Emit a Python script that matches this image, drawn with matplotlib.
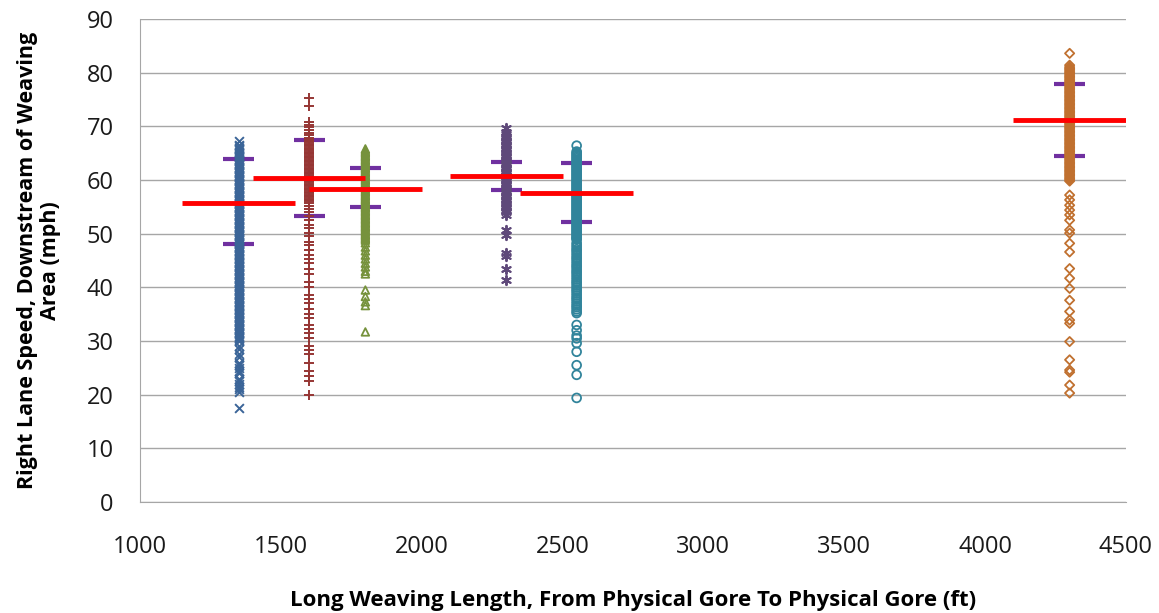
import numpy as np
import matplotlib.pyplot as plt

plt.rcParams['font.family'] = ['Open Sans', 'DejaVu Sans']

# weaving sites (ft) and spot speeds (mph)
lengths = [1350, 1600, 1800, 2300, 2550, 4300]

speed_1350 = [67.2, 66.5, 66.0, 65.5, 65.0, 64.5, 64.0, 63.5, 63.0, 62.5, 62.0, 61.5, 61.0,
              60.5, 60.0, 59.5, 59.0, 58.5, 58.0, 57.5, 57.0, 56.5, 56.0, 55.5, 55.0, 54.5,
              54.0, 53.5, 53.0, 52.5, 52.0, 51.5, 51.0, 50.5, 50.0, 49.5, 49.0, 48.5, 48.0,
              47.5, 47.0, 46.5, 46.0, 45.5, 45.0, 44.5, 44.0, 43.5, 43.0, 42.5, 42.0, 41.5,
              41.0, 40.5, 40.0, 39.5, 39.0, 38.5, 38.0, 37.5, 37.0, 36.5, 36.0, 35.5, 35.0,
              34.5, 34.0, 33.5, 33.0, 32.5, 32.0, 31.5, 31.0, 30.5, 30.0, 29.0, 28.5, 27.5,
              27.0, 26.0, 25.5, 25.0, 24.5, 24.0, 23.0, 22.5, 22.0, 21.5, 21.0, 20.5, 17.5,
              66.25, 65.75, 65.25, 64.75, 64.25, 63.75, 63.25, 62.75, 62.25, 61.75, 61.25,
              60.75, 60.25, 59.75, 59.25, 58.75, 58.25, 57.75, 57.25, 56.75, 56.25, 55.75,
              55.25, 54.75, 54.25, 53.75, 53.25, 52.75, 52.25, 51.75, 51.25, 50.75, 50.25,
              49.75, 49.25, 48.75, 48.25, 47.75, 47.25, 46.75, 46.25, 45.75, 45.25, 44.75,
              44.25, 43.75, 43.25, 42.75, 42.25, 41.75, 41.25, 40.75, 40.25, 39.75, 39.25,
              38.75, 38.25, 37.75, 37.25, 36.75, 36.25, 35.75, 35.25, 34.75, 34.25, 33.75,
              33.25, 32.75, 32.25, 31.75, 31.25, 30.75, 30.25]
speed_1600 = [75.2, 73.8, 70.9, 70.3, 69.8, 69.3, 68.8, 68.3, 67.8, 67.3, 66.8, 66.3, 65.8,
              65.3, 64.8, 64.3, 63.8, 63.3, 62.8, 62.3, 61.8, 61.3, 60.8, 60.3, 59.8, 59.3,
              58.8, 58.3, 57.8, 57.3, 56.8, 56.3, 55.8, 55.2, 54.6, 54.0, 53.3, 52.5, 51.7,
              51.0, 50.2, 49.5, 48.5, 47.8, 47.0, 46.0, 45.3, 44.5, 43.5, 42.5, 41.0, 40.0,
              38.5, 37.8, 37.0, 36.0, 35.0, 34.2, 33.0, 32.2, 31.5, 30.5, 29.0, 28.3, 27.5,
              26.0, 24.5, 23.5, 22.5, 20.0,
              67.55, 67.05, 66.55, 66.05, 65.55, 65.05, 64.55, 64.05, 63.55, 63.05, 62.55,
              62.05, 61.55, 61.05, 60.55, 60.05, 59.55, 59.05, 58.55, 58.05, 57.55, 57.05,
              56.55, 56.05]
speed_1800 = [65.8, 65.3, 64.8, 64.3, 63.8, 63.3, 62.8, 62.3, 61.8, 61.3, 60.8, 60.3, 59.8,
              59.3, 58.8, 58.3, 57.8, 57.3, 56.8, 56.3, 55.8, 55.3, 54.8, 54.3, 53.8, 53.3,
              52.8, 52.3, 51.8, 51.3, 50.8, 50.3, 49.8, 49.3, 48.8, 48.3, 47.5, 46.8, 46.0,
              45.3, 44.5, 43.8, 43.0, 42.5, 39.5, 38.3, 37.3, 36.6, 31.7,
              65.55, 65.05, 64.55, 64.05, 63.55, 63.05, 62.55, 62.05, 61.55, 61.05, 60.55,
              60.05, 59.55, 59.05, 58.55, 58.05, 57.55, 57.05, 56.55, 56.05, 55.55, 55.05,
              54.55, 54.05, 53.55, 53.05, 52.55, 52.05, 51.55, 51.05, 50.55, 50.05, 49.55,
              49.05]
speed_2300 = [69.6, 69.0, 68.5, 68.0, 67.5, 67.0, 66.5, 66.0, 65.5, 65.0, 64.5, 64.0, 63.5,
              63.0, 62.5, 62.0, 61.5, 61.0, 60.5, 60.0, 59.5, 59.0, 58.5, 58.0, 57.5, 57.0,
              56.5, 56.0, 55.5, 55.0, 54.5, 54.0, 53.5, 50.6, 49.8, 46.4, 45.8, 43.5, 41.3,
              68.25, 67.75, 67.25, 66.75, 66.25, 65.75, 65.25, 64.75, 64.25, 63.75, 63.25,
              62.75, 62.25, 61.75, 61.25, 60.75, 60.25, 59.75, 59.25, 58.75, 58.25, 57.75,
              57.25, 56.75, 56.25, 55.75, 55.25, 54.75, 54.25]
speed_2550 = [66.4, 65.3, 64.8, 64.3, 63.8, 63.3, 62.8, 62.3, 61.8, 61.3, 60.8, 60.3, 59.8,
              59.3, 58.8, 58.3, 57.8, 57.3, 56.8, 56.3, 55.8, 55.3, 54.8, 54.3, 53.8, 53.3,
              52.8, 52.3, 51.8, 51.3, 50.8, 50.3, 49.8, 49.3, 49.0, 48.3, 47.5, 46.8, 46.0,
              45.3, 44.5, 43.8, 43.0, 42.3, 41.5, 40.8, 40.0, 39.3, 38.5, 37.8, 37.0, 36.3,
              35.5, 35.2, 33.0, 32.0, 31.0, 30.5, 29.6, 28.0, 25.5, 23.7, 19.4,
              65.05, 64.55, 64.05, 63.55, 63.05, 62.55, 62.05, 61.55, 61.05, 60.55, 60.05,
              59.55, 59.05, 58.55, 58.05, 57.55, 57.05, 56.55, 56.05, 55.55, 55.05, 54.55,
              54.05, 53.55, 53.05, 52.55, 52.05, 51.55, 51.05, 50.55, 50.05, 49.55, 49.05,
              47.9, 47.1, 46.4, 45.6, 44.9, 44.1, 43.4, 42.7, 41.9, 41.1, 40.4, 39.6, 38.9,
              38.1, 37.4, 36.6, 35.9]
speed_4300 = [83.6, 81.4, 80.8, 80.3, 79.8, 79.3, 78.8, 78.3, 77.8, 77.3, 76.8, 76.3, 75.8,
              75.3, 74.8, 74.3, 73.8, 73.3, 72.8, 72.3, 71.8, 71.3, 70.8, 70.3, 69.8, 69.3,
              68.8, 68.3, 67.8, 67.3, 66.8, 66.3, 65.8, 65.3, 64.8, 64.3, 63.8, 63.3, 62.8,
              62.3, 61.8, 61.3, 60.8, 60.3, 59.8, 57.2, 56.3, 55.3, 54.4, 53.5, 52.5, 50.7,
              50.1, 48.2, 46.6, 43.5, 41.7, 39.8, 37.6, 35.5, 33.9, 33.3, 29.9, 26.5, 24.6,
              24.2, 21.8, 20.3,
              81.05, 80.55, 80.05, 79.55, 79.05, 78.55, 78.05, 77.55, 77.05, 76.55, 76.05,
              75.55, 75.05, 74.55, 74.05, 73.55, 73.05, 72.55, 72.05, 71.55, 71.05, 70.55,
              70.05, 69.55, 69.05, 68.55, 68.05, 67.55, 67.05, 66.55, 66.05, 65.55, 65.05,
              64.55, 64.05, 63.55, 63.05, 62.55, 62.05, 61.55, 61.05, 60.55, 60.05]
speeds = [speed_1350, speed_1600, speed_1800, speed_2300, speed_2550, speed_4300]

mean_speed = [55.8, 60.4, 58.4, 60.8, 57.5, 71.2]
p85_speed = [63.9, 67.5, 62.2, 63.3, 63.1, 77.9]
p15_speed = [48.1, 53.3, 55.0, 58.1, 52.2, 64.5]

colors = ['#3b6598', '#963634', '#76923c', '#5f497a', '#31849b', '#c0702f']
markers = ['x', '+', '^', (6, 2, 0), 'o', 'D']
sizes = [40, 55, 30, 45, 40, 22]
hollow = [False, False, True, False, True, True]

fig = plt.figure(figsize=(11.59, 6.13), dpi=100)
ax = fig.add_axes([0.1208, 0.181, 0.8507, 0.788])

for L, s in zip(lengths, p85_speed):
    ax.hlines(s, L - 55, L + 55, color='#7030a0', lw=3, zorder=2)
for L, s in zip(lengths, p15_speed):
    ax.hlines(s, L - 55, L + 55, color='#7030a0', lw=3, zorder=2)

for L, sp, c, m, sz, h in zip(lengths, speeds, colors, markers, sizes, hollow):
    x = np.full(len(sp), L)
    if h:
        ax.scatter(x, sp, marker=m, s=sz, facecolors='none', edgecolors=c, linewidths=1.3, zorder=3)
    else:
        ax.scatter(x, sp, marker=m, s=sz, color=c, linewidths=1.4, zorder=3)

for L, s in zip(lengths, mean_speed):
    ax.hlines(s, L - 200, L + 200, color='#ff0000', lw=3.5, zorder=4)

ax.set_xlim(1000, 4500)
ax.set_ylim(0, 90)
ax.set_xticks(range(1000, 4501, 500))
ax.set_yticks(range(0, 91, 10))
ax.yaxis.grid(True, color='#a6a6a6', lw=1)
ax.set_axisbelow(True)
for sp in ['top', 'right']:
    ax.spines[sp].set_visible(False)
for sp in ['left', 'bottom']:
    ax.spines[sp].set_color('#a6a6a6')
ax.tick_params(axis='both', length=0, labelsize=17, labelcolor='#1a1a1a')
ax.tick_params(axis='x', pad=24)
ax.tick_params(axis='y', pad=19)

ax.set_xlabel('Long Weaving Length, From Physical Gore To Physical Gore (ft)',
              fontsize=16, fontweight='bold', labelpad=22)
ax.set_ylabel('Right Lane Speed, Downstream of Weaving\nArea (mph)',
              fontsize=15.5, fontweight='bold', labelpad=18, linespacing=1.15)

plt.savefig('out.png', dpi=100)
